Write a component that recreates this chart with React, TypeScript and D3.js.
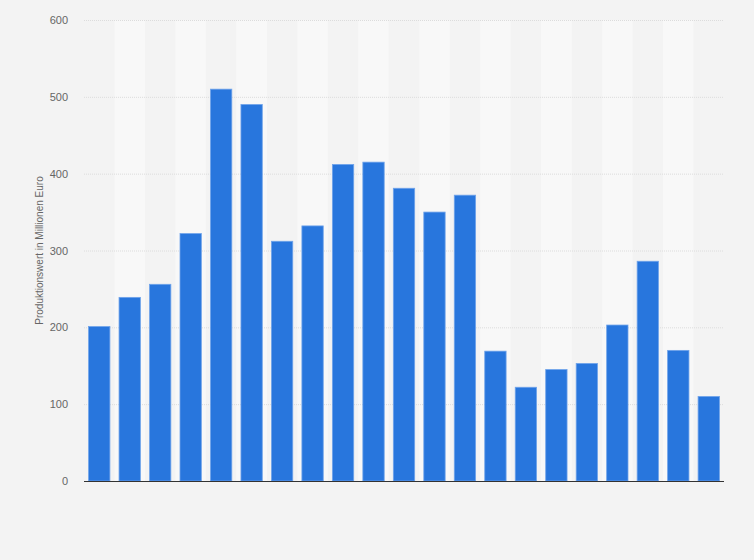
import React, { useEffect, useRef } from "react";
import * as d3 from "d3";

// one bar per year, x labels are not shown in the chart
const categories = [
  "2002", "2003", "2004", "2005", "2006", "2007", "2008", "2009", "2010", "2011", "2012",
  "2013", "2014", "2015", "2016", "2017", "2018", "2019", "2020", "2021", "2022",
];
const values = [
  201, 239, 256, 322, 510, 490, 312, 332, 412, 415, 381,
  350, 372, 169, 122, 145, 153, 203, 286, 170, 110,
];
const yTicks = [0, 100, 200, 300, 400, 500, 600];
const yTitle = "Produktionswert in Millionen Euro";

const W = 754;
const H = 560;
const margin = { top: 20, right: 30, bottom: 79, left: 84 };
const font = "'Liberation Sans', Arial, sans-serif";

export default function App() {
  const svgRef = useRef<SVGSVGElement | null>(null);

  useEffect(() => {
    document.body.style.margin = "0";
    if (!svgRef.current) return;
    const svg = d3.select(svgRef.current);
    svg.selectAll("*").remove();

    const m = margin;
    const x = d3
      .scaleBand<string>()
      .domain(categories)
      .range([m.left, W - m.right])
      .paddingInner(0.3)
      .paddingOuter(0.15);
    const y = d3
      .scaleLinear()
      .domain([0, 600])
      .range([H - m.bottom, m.top]);

    svg.append("rect").attr("width", W).attr("height", H).attr("fill", "#f3f3f3");

    // alternating column bands
    const step = x.step();
    svg
      .append("g")
      .selectAll("rect")
      .data(categories.filter((_, i) => i % 2 === 1))
      .join("rect")
      .attr("x", (d) => (x(d) as number) - step * 0.15)
      .attr("y", m.top)
      .attr("width", step)
      .attr("height", H - m.bottom - m.top)
      .attr("fill", "#f8f8f8");

    // grid
    svg
      .append("g")
      .selectAll("line")
      .data(yTicks.filter((t) => t > 0))
      .join("line")
      .attr("x1", m.left)
      .attr("x2", W - m.right)
      .attr("y1", (d) => y(d) + 0.5)
      .attr("y2", (d) => y(d) + 0.5)
      .attr("stroke", "#dcdcdc")
      .attr("stroke-width", 1)
      .attr("stroke-dasharray", "1,1");

    // y axis labels
    const gy = svg
      .append("g")
      .attr("transform", `translate(${m.left},0)`)
      .call(d3.axisLeft(y).tickValues(yTicks).tickSize(0).tickPadding(16));
    gy.select(".domain").remove();
    gy.selectAll("text")
      .attr("font-size", 11)
      .attr("font-family", font)
      .attr("fill", "#666");

    svg
      .append("text")
      .attr("transform", `translate(43,${(m.top + H - m.bottom) / 2}) rotate(-90)`)
      .attr("text-anchor", "middle")
      .attr("font-size", 10)
      .attr("font-family", font)
      .attr("fill", "#666")
      .text(yTitle);

    // bars
    svg
      .append("g")
      .selectAll("rect")
      .data(values)
      .join("rect")
      .attr("x", (_, i) => x(categories[i]) as number)
      .attr("y", (d) => y(d))
      .attr("width", x.bandwidth())
      .attr("height", (d) => y(0) - y(d))
      .attr("fill", "#2876dd")
      .attr("stroke", "#6fa3ea")
      .attr("stroke-width", 0.8);

    // baseline
    svg
      .append("line")
      .attr("x1", m.left)
      .attr("x2", W - m.right)
      .attr("y1", y(0) + 0.5)
      .attr("y2", y(0) + 0.5)
      .attr("stroke", "#333")
      .attr("stroke-width", 1);
  }, []);

  return <svg ref={svgRef} width={W} height={H} style={{ display: "block" }} />;
}
